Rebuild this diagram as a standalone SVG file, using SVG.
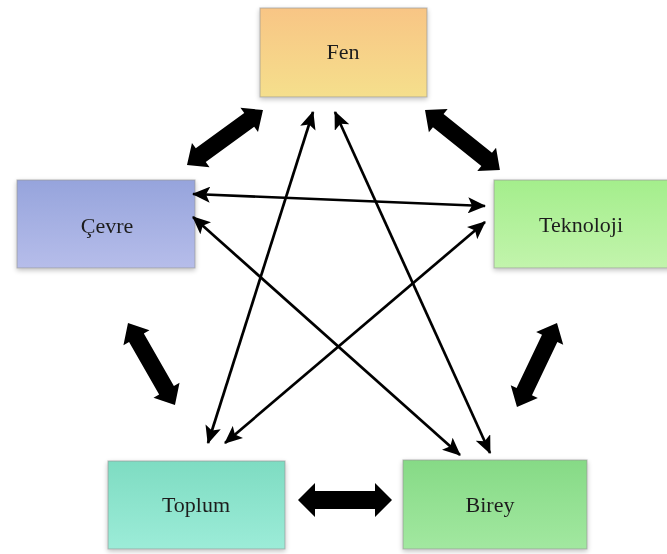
<svg xmlns="http://www.w3.org/2000/svg" width="667" height="554" viewBox="0 0 667 554">
<defs>
<style>
.box{stroke:#9a9a9a;stroke-opacity:0.6;stroke-width:1.2}
.lbl{font-family:"Liberation Serif","Times New Roman",serif;font-size:22px;fill:#1e1e1e;text-anchor:middle;dominant-baseline:central}
.thin{stroke:#000;stroke-width:2.7;fill:none;marker-start:url(#ah);marker-end:url(#ah)}
.thick{fill:#000}
</style>
<marker id="ah" markerUnits="userSpaceOnUse" markerWidth="18" markerHeight="16" refX="17" refY="8" orient="auto-start-reverse">
<path d="M0,0 L18,8 L0,16 L4,8 Z" fill="#000"/>
</marker>
<linearGradient id="gFen" x1="0" y1="0" x2="0" y2="1"><stop offset="0" stop-color="#f8c585"/><stop offset="1" stop-color="#f5df8c"/></linearGradient>
<linearGradient id="gCevre" x1="0" y1="0" x2="0" y2="1"><stop offset="0" stop-color="#96a4dc"/><stop offset="1" stop-color="#b6bdea"/></linearGradient>
<linearGradient id="gTek" x1="0" y1="0" x2="0" y2="1"><stop offset="0" stop-color="#a4ee8c"/><stop offset="1" stop-color="#c2f4ac"/></linearGradient>
<linearGradient id="gTop" x1="0" y1="0" x2="0" y2="1"><stop offset="0" stop-color="#7edcc2"/><stop offset="1" stop-color="#9cecd8"/></linearGradient>
<linearGradient id="gBir" x1="0" y1="0" x2="0" y2="1"><stop offset="0" stop-color="#86da86"/><stop offset="1" stop-color="#a2e8a0"/></linearGradient>
<filter id="sh" x="-10%" y="-10%" width="120%" height="130%"><feGaussianBlur in="SourceAlpha" stdDeviation="2.5"/><feOffset dy="2"/><feComponentTransfer><feFuncA type="linear" slope="0.25"/></feComponentTransfer><feMerge><feMergeNode/><feMergeNode in="SourceGraphic"/></feMerge></filter>
</defs>
<rect width="667" height="554" fill="#ffffff"/>

<g id="fen" filter="url(#sh)"><rect class="box" x="260" y="8" width="167" height="89" fill="url(#gFen)"/><text class="lbl" x="343" y="51">Fen</text></g>
<g id="cevre" filter="url(#sh)"><rect class="box" x="17" y="180" width="178" height="88" fill="url(#gCevre)"/><text class="lbl" x="107" y="225">Çevre</text></g>
<g id="teknoloji" filter="url(#sh)"><rect class="box" x="494" y="180" width="180" height="88" fill="url(#gTek)"/><text class="lbl" x="581" y="224">Teknoloji</text></g>
<g id="toplum" filter="url(#sh)"><rect class="box" x="108" y="461" width="177" height="88" fill="url(#gTop)"/><text class="lbl" x="196" y="504">Toplum</text></g>
<g id="birey" filter="url(#sh)"><rect class="box" x="403" y="460" width="184" height="89" fill="url(#gBir)"/><text class="lbl" x="490" y="504">Birey</text></g>

<g id="connectors">
<path class="thick" transform="translate(187,165) rotate(-35.9)" d="M0,0 L17,-15 L17,-8.5 L76.8,-8.5 L76.8,-15 L93.8,0 L76.8,15 L76.8,8.5 L17,8.5 L17,15 Z"/>
<path class="thick" transform="translate(425,110) rotate(38.7)" d="M0,0 L17,-15 L17,-8.5 L79,-8.5 L79,-15 L96,0 L79,15 L79,8.5 L17,8.5 L17,15 Z"/>
<path class="thick" transform="translate(128,323) rotate(60.2)" d="M0,0 L17,-15 L17,-8.5 L77.5,-8.5 L77.5,-15 L94.5,0 L77.5,15 L77.5,8.5 L17,8.5 L17,15 Z"/>
<path class="thick" transform="translate(557,323) rotate(115.5)" d="M0,0 L17,-15 L17,-8.5 L76,-8.5 L76,-15 L93,0 L76,15 L76,8.5 L17,8.5 L17,15 Z"/>
<path class="thick" transform="translate(298,500)" d="M0,0 L17,-17 L17,-9 L77,-9 L77,-17 L94,0 L77,17 L77,9 L17,9 L17,17 Z"/>

<line class="thin" x1="193" y1="194" x2="485" y2="206"/>
<line class="thin" x1="193" y1="217" x2="460" y2="455"/>
<line class="thin" x1="313" y1="112" x2="208" y2="443"/>
<line class="thin" x1="335" y1="112" x2="490" y2="453"/>
<line class="thin" x1="485" y1="222" x2="225" y2="443"/>
</g>
</svg>
